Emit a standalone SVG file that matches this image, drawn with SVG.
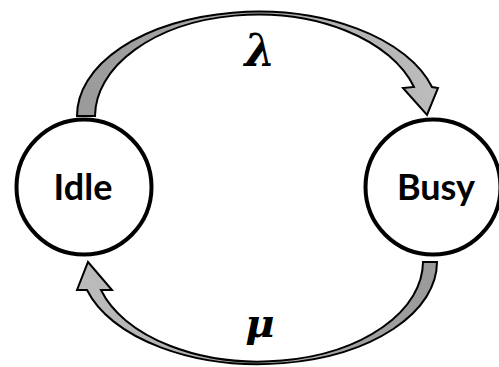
<svg xmlns="http://www.w3.org/2000/svg" width="499" height="367" viewBox="0 0 499 367">
<style>
.node{fill:#ffffff;stroke:#000000;stroke-width:4}
.lbl{font-family:Lato,"Open Sans",sans-serif;font-weight:bold;font-size:36px;fill:#000;text-anchor:middle}
.rate{font-family:"DejaVu Serif","Liberation Serif",serif;font-weight:bold;font-style:italic;fill:#000;text-anchor:middle}
.arrow{stroke:#000000;stroke-width:2;stroke-linejoin:miter}
</style>
<defs>
<linearGradient id="gTop" x1="0" y1="0" x2="1" y2="0">
<stop offset="0" stop-color="#9a9a9a"/>
<stop offset="1" stop-color="#bcbcbc"/>
</linearGradient>
<linearGradient id="gBot" x1="1" y1="0" x2="0" y2="0">
<stop offset="0" stop-color="#9a9a9a"/>
<stop offset="1" stop-color="#bcbcbc"/>
</linearGradient>
</defs>
<rect width="499" height="367" fill="#ffffff"/>
<g id="connectors">
<path class="arrow" fill="url(#gTop)" d="M77 116 A181 104 0 0 1 432 87 L438 88 L427 115 L403 88 L414 87 A163 102 0 0 0 95 116 Z"/>
<path class="arrow" fill="url(#gBot)" d="M437 262 A178.4 102 0 0 1 87 290 L77 290 L88 262 L112 290 L101 290 A164.4 100 0 0 0 423 262 Z"/>
<text class="rate" x="260" y="66" font-size="44">λ</text>
<text class="rate" x="260" y="337" font-size="40">μ</text>
</g>
<g id="idle">
<circle class="node" cx="84" cy="187" r="67.5"/>
<text class="lbl" x="83" y="200">Idle</text>
</g>
<g id="busy">
<circle class="node" cx="433" cy="187" r="67.5"/>
<text class="lbl" x="436" y="200">Busy</text>
</g>
</svg>
